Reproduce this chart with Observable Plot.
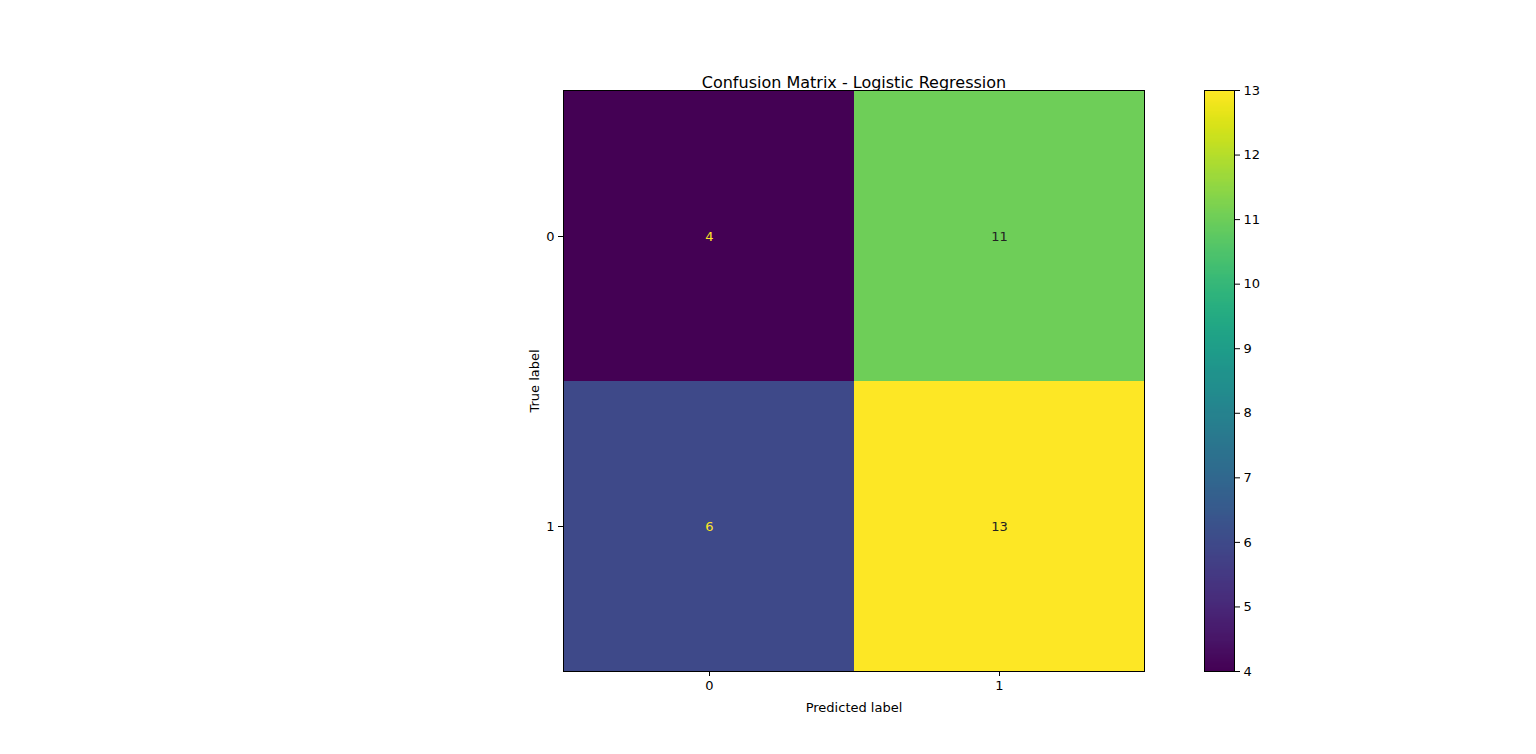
<!DOCTYPE html>
<html><head><meta charset="utf-8">
<script src="https://cdn.jsdelivr.net/npm/d3@7"></script>
<script src="https://cdn.jsdelivr.net/npm/@observablehq/plot@0.6"></script>
<style>
body{margin:0;background:#fff;font-family:"DejaVu Sans",sans-serif}
#wrap{position:relative;width:1536px;height:754px}
#wrap > *{position:absolute;top:0}
svg{font-family:"DejaVu Sans",sans-serif;font-size:13px;overflow:visible}
</style></head><body><div id="wrap"></div>
<script>
const trueLabels = ["0","1"];
const predLabels = ["0","1"];
const counts = [[4, 11],[6, 13]];
const cbTicks = [4,5,6,7,8,9,10,11,12,13];
const title = "Confusion Matrix - Logistic Regression";

const cells = [];
trueLabels.forEach((t,i)=>predLabels.forEach((p,j)=>cells.push({t,p,v:counts[i][j]})));
const color = {type:"linear", scheme:"viridis", domain:[4,13]};

const main = Plot.plot({
  width:1536, height:754, marginLeft:563, marginRight:392, marginTop:90, marginBottom:83,
  style:{fontSize:"13px", fontFamily:"DejaVu Sans", background:"transparent"},
  x:{domain:predLabels, padding:0, label:"Predicted label", labelAnchor:"center", labelArrow:"none", tickSize:5, labelOffset:40},
  y:{domain:trueLabels, padding:0, label:"True label", labelAnchor:"center", labelArrow:"none", tickSize:5, labelOffset:34},
  color,
  marks:[
    Plot.cell(cells,{x:"p", y:"t", fill:"v"}),
    Plot.text(cells,{x:"p", y:"t", text:d=>String(d.v), fill:d=>d.v<8.5?"#fde725":"#222", fontSize:13}),
    Plot.frame({stroke:"black"}),
    Plot.text([title],{frameAnchor:"top", dy:-14, fontSize:16, fill:"black"})
  ]
});
main.style.left="0px";
document.getElementById("wrap").appendChild(main);

const cb = Plot.plot({
  width:80, height:754, marginLeft:0, marginRight:50, marginTop:90, marginBottom:83,
  style:{fontSize:"13px", fontFamily:"DejaVu Sans", background:"transparent"},
  x:{domain:[0,1], axis:null},
  y:{domain:[4,13], axis:"right", ticks:cbTicks, tickSize:5, label:null},
  color,
  marks:[
    Plot.raster({x1:0,x2:1,y1:4,y2:13,width:1,height:300, fill:(x,y)=>y, imageRendering:"auto"}),
    Plot.frame({stroke:"black"})
  ]
});
cb.style.left="1204px";
document.getElementById("wrap").appendChild(cb);
</script></body></html>
